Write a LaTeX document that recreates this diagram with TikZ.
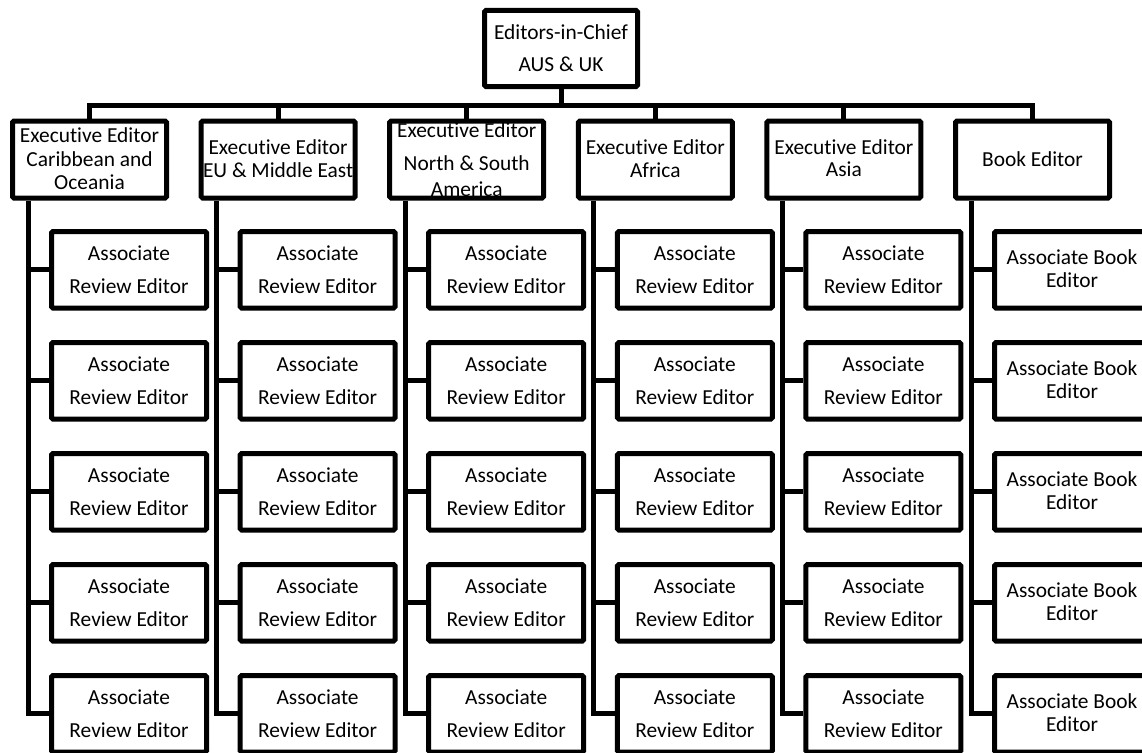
\documentclass[tikz,border=0pt]{standalone}
\usepackage{fontspec}
\setmainfont[Ligatures=NoCommon]{Carlito}
\pgfdeclarelayer{bg}
\pgfsetlayers{bg,main}
\tikzset{
  ebox/.style={draw=black, line width=5pt, rounded corners=1.5pt, minimum width=154pt, minimum height=77pt, inner sep=0pt},
  abox/.style={ebox, minimum width=155pt, minimum height=76.5pt},
  tbox/.style={ebox, minimum width=153pt, minimum height=76pt},
  txt/.style={anchor=base, inner sep=0pt, font=\fontsize{21.4}{25}\selectfont},
  conn/.style={draw=black, line width=5pt}
}
\begin{document}
\begin{tikzpicture}[x=1pt,y=-1pt]
\begin{pgfonlayer}{bg}
\fill[white] (0,0) rectangle (1142,752);
\end{pgfonlayer}
\useasboundingbox (0,0) rectangle (1142,752);

% boxes
\node[tbox] (chief) at (561,48.5) {};
\coordinate (bus) at (0,105);
\foreach \i in {1,...,6} {
  \pgfmathsetmacro\cx{10+188.6*(\i-1)+79.5}
  \node[ebox] (e\i) at (\cx,159.5) {};
  \coordinate (s\i) at (\cx-61.5,159.5);
  \foreach \k in {1,...,5} {
    \pgfmathsetmacro\ry{269.75+111*(\k-1)}
    \node[abox] (a\i\k) at (\cx+39.5,\ry) {};
  }
}

% texts
\begin{pgfonlayer}{bg}
\path (chief.center) ++(0,-9.2) node[txt] (chiefA) {Editors-in-Chief};
\path (chief.center) ++(0,23.2) node[txt] (chiefB) {AUS \& UK};

\path (e1.center) ++(0,-16.8) node[txt] (e1A) {Executive Editor};
\path (e1.center) ++(0,6.5)   node[txt] (e1B) {Caribbean and};
\path (e1.center) ++(0,29.8)  node[txt] (e1C) {Oceania};

\path (e2.center) ++(0,-5.2) node[txt] (e2A) {Executive Editor};
\path (e2.center) ++(0,17.8) node[txt] (e2B) {EU \& Middle East};

\path (e3.center) ++(0,-21.8) node[txt] (e3A) {Executive Editor};
\path (e3.center) ++(0,11.2)  node[txt] (e3B) {North \& South};
\path (e3.center) ++(0,36.5)  node[txt] (e3C) {America};

\path (e4.center) ++(0,-5.2) node[txt] (e4A) {Executive Editor};
\path (e4.center) ++(0,18)   node[txt] (e4B) {Africa};

\path (e5.center) ++(0,-4.8) node[txt] (e5A) {Executive Editor};
\path (e5.center) ++(0,17.4) node[txt] (e5B) {Asia};

\path (e6.center) ++(0,7.2) node[txt] (e6A) {Book Editor};

\foreach \i in {1,...,5} {
  \foreach \k in {1,...,5} {
    \path (a\i\k.center) ++(0,-9.3) node[txt] (a\i\k A) {Associate};
    \path (a\i\k.center) ++(0,23.3) node[txt] (a\i\k B) {Review Editor};
  }
}
\foreach \k in {1,...,5} {
  \path (a6\k.center) ++(0,-5) node[txt] (a6\k A) {Associate Book};
  \path (a6\k.center) ++(0,18) node[txt] (a6\k B) {Editor};
}
\end{pgfonlayer}

% connectors
\draw[conn] (chief.south) -- (chief.south |- bus);
\draw[conn] (e1.north) -- (e1.north |- bus) -- (e6.north |- bus) -- (e6.north);
\foreach \i in {2,...,5} {
  \draw[conn] (e\i.north) -- (e\i.north |- bus);
}
\foreach \i in {1,...,6} {
  \draw[conn] (e\i.south -| s\i) |- (a\i5.west);
  \foreach \k in {1,...,4} {
    \draw[conn] (s\i |- a\i\k.west) -- (a\i\k.west);
  }
}
\end{tikzpicture}
\end{document}
